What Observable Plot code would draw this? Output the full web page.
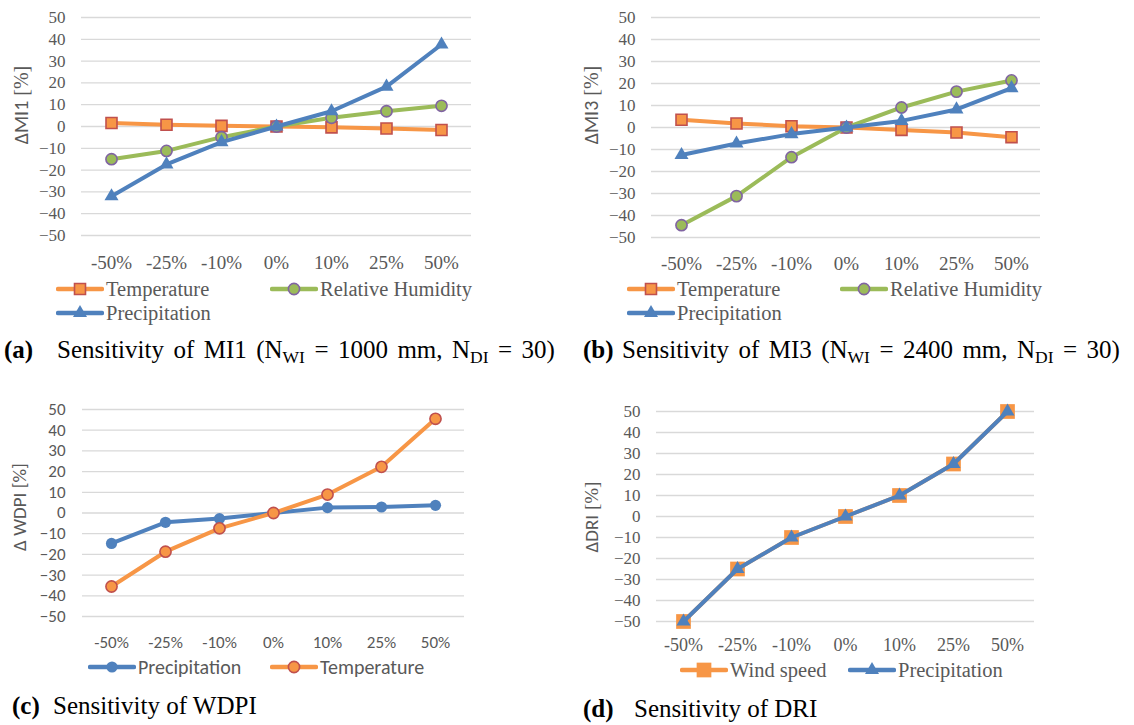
<!DOCTYPE html>
<html>
<head>
<meta charset="utf-8">
<script src="https://cdn.jsdelivr.net/npm/d3@7"></script>
<script src="https://cdn.jsdelivr.net/npm/@observablehq/plot@0.6"></script>
<style>
  html, body { margin: 0; padding: 0; background: #fff; }
  #root { position: relative; width: 1134px; height: 725px; background: #fff; overflow: hidden; }
  .ylab { position: absolute; transform: translate(-50%, -50%) rotate(-90deg); white-space: nowrap; color: #595959; }
  .legend { position: absolute; display: flex; align-items: center; white-space: nowrap; color: #595959; }
  .legend svg { display: block; }
  .caption { position: absolute; white-space: nowrap; font-family: "Liberation Serif", serif; font-size: 25px; color: #000; }
  .caption b { display: inline-block; word-spacing: 0; }
  .caption sub { font-size: 0.7em; vertical-align: -0.28em; }
</style>
</head>
<body>
<div id="root"></div>
<script>
// ---------- data ----------
const categories = ["-50%", "-25%", "-10%", "0%", "10%", "25%", "50%"];
const yTicks = [-50, -40, -30, -20, -10, 0, 10, 20, 30, 40, 50];

// (a) MI1
const mi1Temperature   = [1.6, 0.8, 0.3, 0, -0.4, -0.9, -1.6];
const mi1Humidity      = [-15.0, -11.2, -4.9, 0, 4.0, 7.0, 9.5];
const mi1Precipitation = [-32.0, -17.4, -7.2, 0, 7.0, 18.3, 37.6];
// (b) MI3
const mi3Temperature   = [3.5, 1.8, 0.6, 0, -1.1, -2.3, -4.4];
const mi3Humidity      = [-44.4, -31.2, -13.5, 0, 9.1, 16.3, 21.4];
const mi3Precipitation = [-12.5, -7.3, -3.0, 0, 3.0, 8.2, 17.9];
// (c) WDPI
const wdpiPrecipitation = [-14.7, -4.5, -2.7, 0, 2.6, 2.9, 3.7];
const wdpiTemperature   = [-35.5, -18.7, -7.4, 0, 8.9, 22.3, 45.5];
// (d) DRI
const driWindSpeed     = [-50, -25, -10, 0, 10, 25, 50];
const driPrecipitation = [-50, -25, -10, 0, 10, 25, 50];

// ---------- styles ----------
const ORANGE = "#F79646", RED = "#C0504D", GREEN = "#9BBB59", PURPLE = "#8064A2", BLUE = "#4F81BD";
const SERIF = "'Liberation Serif', 'Times New Roman', serif";
const SANS = "Carlito, Lato, 'Open Sans', sans-serif";

const root = document.getElementById("root");

function toRows(values) {
  return categories.map((c, i) => ({cat: c, v: values[i]}));
}

function panel(cfg) {
  const marks = [Plot.ruleY(yTicks, {stroke: "#D9D9D9", strokeWidth: 1.3})];
  for (const s of cfg.series) {
    const rows = toRows(s.values);
    marks.push(Plot.line(rows, {x: "cat", y: "v", stroke: s.color, strokeWidth: 4, strokeLinejoin: "round", strokeLinecap: "round"}));
    marks.push(Plot.dot(rows, {x: "cat", y: "v", symbol: s.symbol, r: s.r, fill: s.fill, stroke: s.stroke || "none", strokeWidth: s.stroke ? 1.6 : 0}));
  }
  marks.push(Plot.axisX({tickSize: 0, tickPadding: cfg.xPad, label: null, fontSize: cfg.xFont, fontFamily: cfg.font, color: "#595959"}));
  marks.push(Plot.axisY(yTicks, {tickSize: 0, tickPadding: cfg.yPad, label: null, fontSize: cfg.yFont, fontFamily: cfg.font, color: "#595959"}));
  const svg = Plot.plot({
    width: cfg.width, height: cfg.height,
    marginLeft: cfg.ml, marginRight: cfg.mr, marginTop: cfg.mt, marginBottom: cfg.mb,
    x: {type: "point", domain: categories, padding: 0.5},
    y: {domain: [-50, 50]},
    style: {background: "transparent", overflow: "visible", color: "#595959"},
    marks
  });
  svg.style.position = "absolute";
  svg.style.left = cfg.left + "px";
  svg.style.top = cfg.top + "px";
  root.appendChild(svg);
}

function swatch(s) {
  const w = 48, h = 22;
  const svg = d3.create("svg").attr("width", w).attr("height", h);
  svg.append("line").attr("x1", 2).attr("x2", w - 2).attr("y1", h / 2).attr("y2", h / 2)
    .attr("stroke", s.color).attr("stroke-width", 4.5).attr("stroke-linecap", "round");
  const sym = {square: d3.symbolSquare, circle: d3.symbolCircle, triangle: d3.symbolTriangle}[s.symbol];
  svg.append("path").attr("transform", `translate(${w / 2},${h / 2})`)
    .attr("d", d3.symbol(sym, Math.PI * s.r * s.r)())
    .attr("fill", s.fill).attr("stroke", s.stroke || "none").attr("stroke-width", s.stroke ? 1.6 : 0);
  return svg.node();
}

function legendItem(s, left, top, font, size) {
  const d = document.createElement("div");
  d.className = "legend";
  d.style.left = left + "px";
  d.style.top = top + "px";
  d.style.height = "24px";
  d.style.transform = "translateY(-50%)";
  d.style.fontFamily = font;
  d.style.fontSize = size + "px";
  d.appendChild(swatch(s));
  const t = document.createElement("span");
  t.textContent = s.name;
  t.style.marginLeft = "2px";
  d.appendChild(t);
  root.appendChild(d);
}

function yLabel(html, cx, cy, size) {
  const d = document.createElement("div");
  d.className = "ylab";
  d.style.left = cx + "px";
  d.style.top = cy + "px";
  d.style.fontSize = size + "px";
  d.innerHTML = html;
  root.appendChild(d);
}

function caption(tag, text, left, top, textLeft, wordSpacing) {
  const d = document.createElement("div");
  d.className = "caption";
  d.style.left = left + "px";
  d.style.top = top + "px";
  d.style.wordSpacing = (wordSpacing || 0) + "px";
  d.innerHTML = `<b style="width:${textLeft - left}px">${tag}</b>${text}`;
  root.appendChild(d);
}

// series definitions
const sq = (name, values) => ({name, values, color: ORANGE, symbol: "square", r: 6.2, fill: ORANGE, stroke: RED});
const rh = (name, values) => ({name, values, color: GREEN, symbol: "circle", r: 5.6, fill: GREEN, stroke: PURPLE});
const tri = (name, values) => ({name, values, color: BLUE, symbol: "triangle", r: 5.2, fill: BLUE});

// ---------- (a) ----------
const aSeries = [sq("Temperature", mi1Temperature), rh("Relative Humidity", mi1Humidity), tri("Precipitation", mi1Precipitation)];
panel({left: 0, top: 0, width: 560, height: 280, ml: 81, mr: 89, mt: 17, mb: 45,
  series: aSeries, font: SERIF, xFont: 19, yFont: 17, xPad: 20, yPad: 16});
yLabel(`<span style="font-family:${SANS}">ΔMI1</span> <span style="font-family:${SERIF}">[%]</span>`, 21, 105, 20);
legendItem(aSeries[0], 56, 289, SERIF, 20.5);
legendItem(aSeries[1], 270, 289, SERIF, 20.5);
legendItem(aSeries[2], 56, 313, SERIF, 20.5);
caption("(a)", `Sensitivity of MI1 (N<sub>WI</sub> = 1000 mm, N<sub>DI</sub> = 30)`, 4, 336, 57, 3.2);

// ---------- (b) ----------
const bSeries = [sq("Temperature", mi3Temperature), rh("Relative Humidity", mi3Humidity), tri("Precipitation", mi3Precipitation)];
panel({left: 570, top: 0, width: 564, height: 280, ml: 81, mr: 94, mt: 17, mb: 43,
  series: bSeries, font: SERIF, xFont: 19, yFont: 17, xPad: 19, yPad: 16});
yLabel(`<span style="font-family:${SANS}">ΔMI3</span> <span style="font-family:${SERIF}">[%]</span>`, 591, 105, 20);
legendItem(bSeries[0], 627, 289, SERIF, 20.5);
legendItem(bSeries[1], 840, 289, SERIF, 20.5);
legendItem(bSeries[2], 627, 313, SERIF, 20.5);
caption("(b)", `Sensitivity of MI3 (N<sub>WI</sub> = 2400 mm, N<sub>DI</sub> = 30)`, 583, 336, 622, 3.2);

// ---------- (c) ----------
const cSeries = [
  {name: "Precipitation", values: wdpiPrecipitation, color: BLUE, symbol: "circle", r: 5.6, fill: BLUE},
  {name: "Temperature", values: wdpiTemperature, color: ORANGE, symbol: "circle", r: 5.6, fill: ORANGE, stroke: RED}
];
panel({left: 0, top: 370, width: 560, height: 290, ml: 82, mr: 96, mt: 39, mb: 44,
  series: cSeries, font: SANS, xFont: 17, yFont: 17, xPad: 19, yPad: 17});
yLabel(`<span style="font-family:${SANS}">Δ WDPI [%]</span>`, 19, 507, 19);
legendItem(cSeries[0], 88, 667, SANS, 20);
legendItem(cSeries[1], 270, 667, SANS, 20);
caption("(c)", `Sensitivity of WDPI`, 12, 692, 53);

// ---------- (d) ----------
const dSeries = [
  {name: "Wind speed", values: driWindSpeed, color: ORANGE, symbol: "square", r: 8.3, fill: ORANGE},
  {name: "Precipitation", values: driPrecipitation, color: BLUE, symbol: "triangle", r: 5.2, fill: BLUE}
];
panel({left: 570, top: 370, width: 564, height: 290, ml: 86, mr: 100, mt: 41, mb: 39,
  series: dSeries, font: SERIF, xFont: 18, yFont: 17, xPad: 17, yPad: 16});
yLabel(`<span style="font-family:${SANS}">ΔDRI</span> <span style="font-family:${SERIF}">[%]</span>`, 591, 517, 19);
legendItem(dSeries[0], 680, 670, SERIF, 20.5);
legendItem(dSeries[1], 848, 670, SERIF, 20.5);
caption("(d)", `Sensitivity of DRI`, 583, 695, 634);
</script>
</body>
</html>
